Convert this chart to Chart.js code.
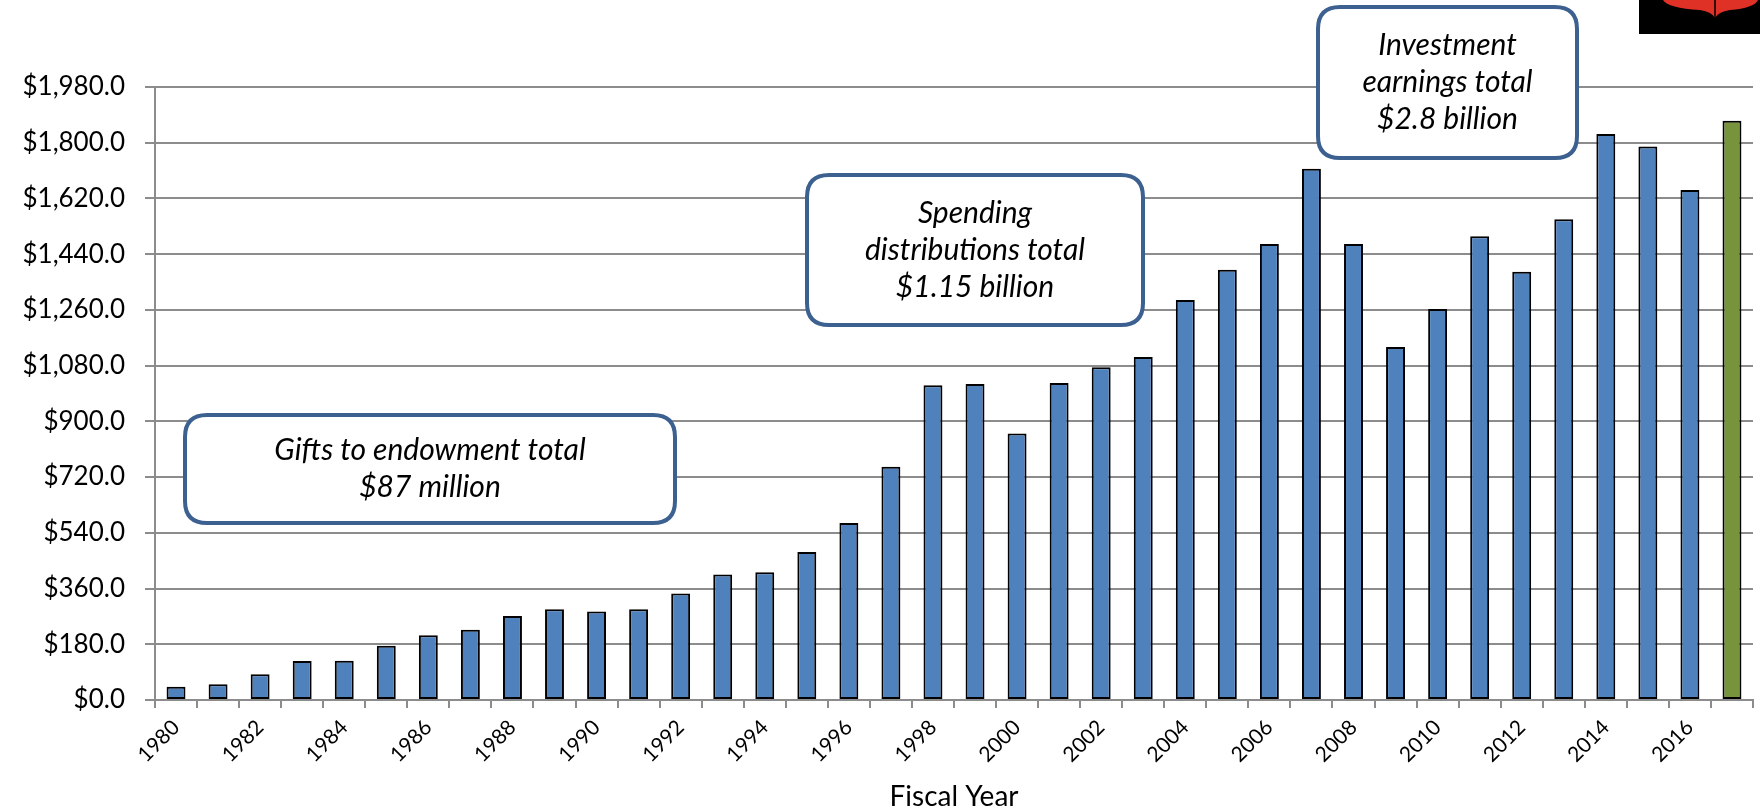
<!DOCTYPE html>
<html>
<head>
<meta charset="utf-8">
<title>Endowment by Fiscal Year</title>
<script src="https://cdn.jsdelivr.net/npm/chart.js@4.4.1/dist/chart.umd.min.js"></script>
<style>
  html, body { margin: 0; padding: 0; background: #fff; }
  #wrap { width: 1760px; height: 810px; position: relative; }
</style>
</head>
<body>
<div id="wrap"><canvas id="endowChart" width="1760" height="810"></canvas></div>
<script>
// Fiscal years on the x axis
const years = [
    '1980', '1981', '1982', '1983', '1984', '1985', '1986', '1987', '1988', '1989',
    '1990', '1991', '1992', '1993', '1994', '1995', '1996', '1997', '1998', '1999',
    '2000', '2001', '2002', '2003', '2004', '2005', '2006', '2007', '2008', '2009',
    '2010', '2011', '2012', '2013', '2014', '2015', '2016', '2017'
];

// Endowment value ($ millions)
const values = [
    43, 51, 83, 126, 127, 175, 209, 227, 271, 293,
    286, 293, 344, 405, 413, 478, 572, 753, 1017, 1021,
    861, 1024, 1075, 1108, 1292, 1390, 1473, 1716, 1473, 1140,
    1263, 1498, 1383, 1553, 1828, 1788, 1647, 1871
];

// y axis range
const yMin = 0;
const yMax = 1980;
const yStep = 180;

// callout boxes (text only, positions in the drawing function)
const callouts = [
    { lines: ['Gifts to endowment total', '$87 million'], box: [185, 415, 675, 523] },
    { lines: ['Spending', 'distributions total', '$1.15 billion'], box: [807, 175, 1143, 325] },
    { lines: ['Investment', 'earnings total', '$2.8 billion'], box: [1318, 7, 1577, 158] }
];

const BLUE = '#4F81BD';
const GREEN = '#77933C';
const GRID = '#8c8c8c';
const FONT = 'Lato, "Open Sans", sans-serif';

const barColors = years.map((y, i) => i === years.length - 1 ? GREEN : BLUE);

function roundRect(ctx, x1, y1, x2, y2, r) {
    ctx.beginPath();
    ctx.moveTo(x1 + r, y1);
    ctx.lineTo(x2 - r, y1);
    ctx.quadraticCurveTo(x2, y1, x2, y1 + r);
    ctx.lineTo(x2, y2 - r);
    ctx.quadraticCurveTo(x2, y2, x2 - r, y2);
    ctx.lineTo(x1 + r, y2);
    ctx.quadraticCurveTo(x1, y2, x1, y2 - r);
    ctx.lineTo(x1, y1 + r);
    ctx.quadraticCurveTo(x1, y1, x1 + r, y1);
    ctx.closePath();
}

// draws the callout boxes and the little logo in the corner
const calloutPlugin = {
    id: 'callouts',
    afterDraw(chart) {
        const ctx = chart.ctx;
        ctx.save();
        callouts.forEach(c => {
            const [x1, y1, x2, y2] = c.box;
            roundRect(ctx, x1, y1, x2, y2, 22);
            ctx.fillStyle = '#fff';
            ctx.fill();
            ctx.lineWidth = 4;
            ctx.strokeStyle = '#3C6190';
            ctx.stroke();

            ctx.fillStyle = '#000';
            ctx.font = 'italic 30px ' + FONT;
            ctx.textAlign = 'center';
            ctx.textBaseline = 'middle';
            const cx = (x1 + x2) / 2;
            const lh = 37;
            const cy = (y1 + y2) / 2;
            const start = cy - lh * (c.lines.length - 1) / 2;
            c.lines.forEach((t, i) => ctx.fillText(t, cx, start + i * lh));
        });

        // logo corner
        ctx.fillStyle = '#000';
        ctx.fillRect(1639, 0, 121, 34);
        ctx.fillStyle = '#E03127';
        ctx.beginPath();
        ctx.moveTo(1663, 0);
        ctx.quadraticCurveTo(1668, 8, 1700, 10);
        ctx.quadraticCurveTo(1712, 12, 1715, 18);
        ctx.quadraticCurveTo(1718, 12, 1730, 10);
        ctx.quadraticCurveTo(1754, 8, 1758, 0);
        ctx.closePath();
        ctx.fill();
        ctx.strokeStyle = '#000';
        ctx.lineWidth = 1.5;
        ctx.beginPath();
        ctx.moveTo(1715, 0);
        ctx.lineTo(1715, 18);
        ctx.stroke();
        ctx.restore();
    }
};

document.addEventListener('DOMContentLoaded', () => {
    const ctx = document.getElementById('endowChart').getContext('2d');
    new Chart(ctx, {
        type: 'bar',
        data: {
            labels: years,
            datasets: [{
                data: values,
                backgroundColor: barColors,
                borderColor: '#000',
                borderWidth: 2,
                borderSkipped: false,
                barPercentage: 0.45,
                categoryPercentage: 1.0
            }]
        },
        options: {
            responsive: false,
            animation: false,
            layout: { padding: { top: 87, right: 7, left: 0, bottom: 0 } },
            plugins: {
                legend: { display: false },
                tooltip: { enabled: false }
            },
            scales: {
                x: {
                    afterFit: scale => { scale.height = 110; },
                    grid: {
                        offset: true,
                        drawOnChartArea: false,
                        color: GRID,
                        lineWidth: 2,
                        tickLength: 8
                    },
                    border: { color: GRID, width: 2 },
                    ticks: {
                        autoSkip: false,
                        maxRotation: 45,
                        minRotation: 45,
                        padding: 7,
                        color: '#000',
                        font: { family: FONT, size: 21 },
                        callback: (v, i) => i % 2 === 0 ? years[i] : ''
                    },
                    title: {
                        display: true,
                        text: 'Fiscal Year',
                        color: '#000',
                        font: { family: FONT, size: 28, lineHeight: 0.8 },
                        padding: { top: 0, bottom: 2 }
                    }
                },
                y: {
                    min: yMin,
                    max: yMax,
                    afterFit: scale => { scale.width = 155; },
                    grid: {
                        color: GRID,
                        lineWidth: 2,
                        tickLength: 10
                    },
                    border: { color: GRID, width: 2 },
                    ticks: {
                        stepSize: yStep,
                        padding: 20,
                        color: '#000',
                        font: { family: FONT, size: 26 },
                        callback: v => '$' + v.toLocaleString('en-US', { minimumFractionDigits: 1, maximumFractionDigits: 1 })
                    }
                }
            }
        },
        plugins: [calloutPlugin]
    });
});
</script>
</body>
</html>
